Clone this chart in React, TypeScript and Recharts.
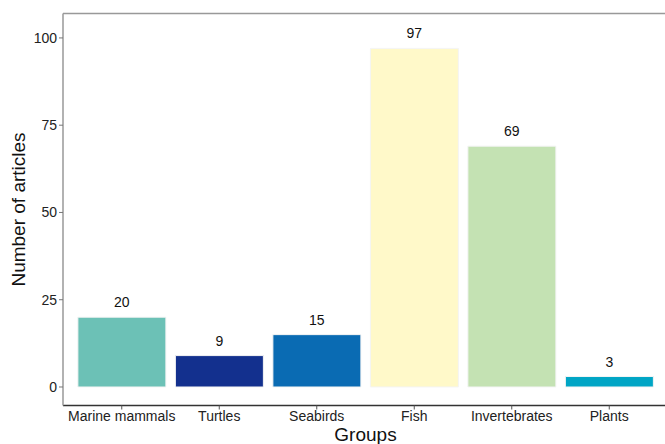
import React from 'react';
import { BarChart, Bar, XAxis, YAxis, Cell, LabelList, Label } from 'recharts';

const groups = ['Marine mammals', 'Turtles', 'Seabirds', 'Fish', 'Invertebrates', 'Plants'];
const articles = [20, 9, 15, 97, 69, 3];
const colors = ['#6CC1B6', '#13308E', '#0A6BB3', '#FFF9C9', '#C4E2B3', '#00A5C5'];
const yTicks = [0, 25, 50, 75, 100];

const data = groups.map((g, i) => ({ group: g, articles: articles[i] }));

const font = 'Liberation Sans, Arial, sans-serif';

export default function App() {
  return (
    <div style={{ position: 'absolute', left: 0, top: 0, width: 665, height: 444, overflow: 'hidden', background: '#fff' }}>
      <BarChart
        width={675}
        height={444}
        data={data}
        margin={{ top: 13.5, right: 7, bottom: 0, left: 0 }}
        barCategoryGap="5%"
      >
        <XAxis
          dataKey="group"
          padding={{ left: 10, right: 10 }}
          axisLine={{ stroke: '#333', strokeWidth: 1.5 }}
          tickLine={{ stroke: '#555' }}
          tickSize={4}
          tick={{ fill: '#222', fontSize: 14, fontFamily: font }}
          interval={0}
          height={38.5}
        >
          <Label value="Groups" position="insideBottom" offset={3} style={{ fill: '#111', fontSize: 19, fontFamily: font }} />
        </XAxis>
        <YAxis
          type="number"
          domain={[-5.3, 107]}
          ticks={yTicks}
          allowDataOverflow
          width={63}
          axisLine={{ stroke: '#999', strokeWidth: 1.5 }}
          tickLine={{ stroke: '#777' }}
          tickSize={4}
          tick={{ fill: '#222', fontSize: 14, fontFamily: font }}
        >
          <Label value="Number of articles" angle={-90} position="insideLeft" offset={18} style={{ fill: '#111', fontSize: 19, fontFamily: font, textAnchor: 'middle' }} />
        </YAxis>
        <Bar dataKey="articles" isAnimationActive={false} stroke="#f4f4f4" strokeWidth={1}>
          {data.map((d, i) => (
            <Cell key={d.group} fill={colors[i]} />
          ))}
          <LabelList dataKey="articles" position="top" offset={10} style={{ fill: '#111', fontSize: 14, fontFamily: font }} />
        </Bar>
        <line x1={63} y1={13.5} x2={675} y2={13.5} stroke="#999" strokeWidth={1.5} />
      </BarChart>
    </div>
  );
}
